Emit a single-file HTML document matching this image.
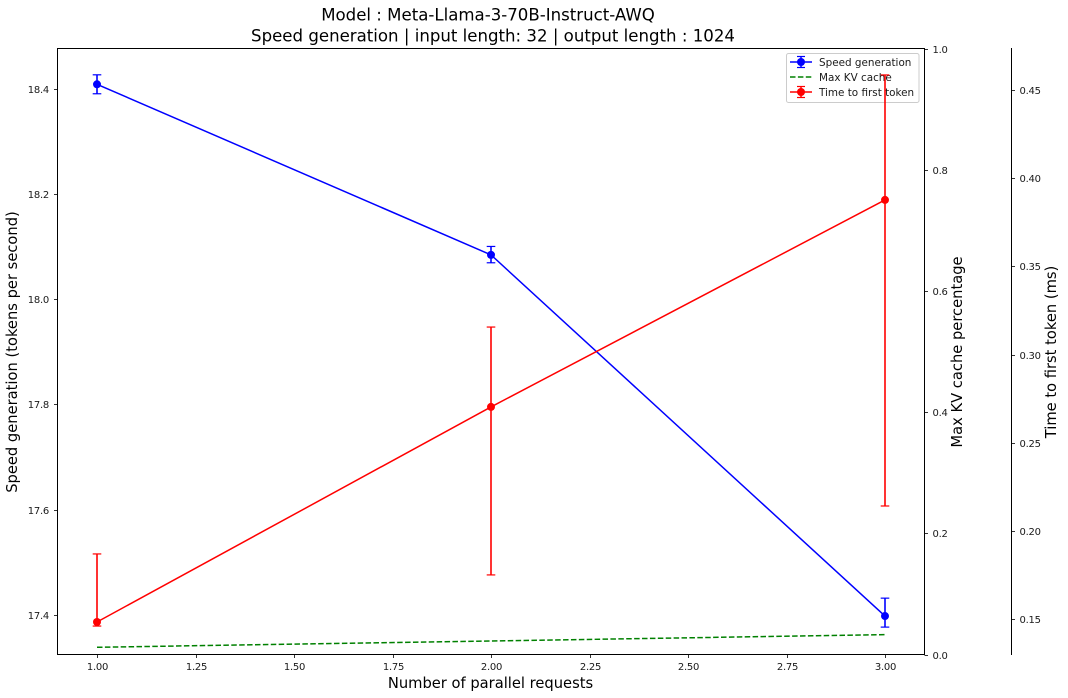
<!DOCTYPE html>
<html>
<head>
<meta charset="utf-8">
<title>Model : Meta-Llama-3-70B-Instruct-AWQ</title>
<style>
html,body{margin:0;padding:0;background:#fff;}
svg{display:block;}
text{font-family:"DejaVu Sans","Liberation Sans",sans-serif;fill:#000;}
.tick{font-size:10px;fill:#1a1a1a;letter-spacing:-0.25px;}
</style>
</head>
<body>
<svg id="chart" width="1068" height="698" viewBox="0 0 1068 698" xmlns="http://www.w3.org/2000/svg">
<rect x="0" y="0" width="1068" height="698" fill="#ffffff"/>
<text x="488" y="20.5" font-size="16.6" text-anchor="middle">Model : Meta-Llama-3-70B-Instruct-AWQ</text>
<text x="493" y="41.5" font-size="16.6" text-anchor="middle">Speed generation | input length: 32 | output length : 1024</text>
<text x="490.5" y="688" font-size="14.7" text-anchor="middle">Number of parallel requests</text>
<text transform="translate(17,352) rotate(-90)" font-size="14.7" text-anchor="middle">Speed generation (tokens per second)</text>
<text transform="translate(962,352) rotate(-90)" font-size="14.7" text-anchor="middle">Max KV cache percentage</text>
<text transform="translate(1056,352) rotate(-90)" font-size="14.7" text-anchor="middle">Time to first token (ms)</text>
<g id="kv-layer"></g>
<g id="speed-layer"></g>
<g id="axes-layer"></g>
<g id="legend">
  <rect x="786.5" y="53.5" width="132.5" height="49" rx="2" fill="#ffffff" fill-opacity="0.8" stroke="#cccccc" stroke-width="1"/>
  <g>
    <line x1="790" x2="812" y1="62" y2="62" stroke="#0000ff" stroke-width="1.5"/>
    <line x1="801" x2="801" y1="56.5" y2="67.5" stroke="#0000ff" stroke-width="1.5"/>
    <line x1="797" x2="805" y1="56.5" y2="56.5" stroke="#0000ff" stroke-width="1.2"/>
    <line x1="797" x2="805" y1="67.5" y2="67.5" stroke="#0000ff" stroke-width="1.2"/>
    <circle cx="801" cy="62" r="4" fill="#0000ff"/>
    <text x="819" y="66" font-size="10.4" style="fill:#1a1a1a">Speed generation</text>
  </g>
  <g>
    <line x1="790" x2="812" y1="77" y2="77" stroke="#008000" stroke-width="1.5" stroke-dasharray="5.5 2.4"/>
    <text x="819" y="81" font-size="10.4" style="fill:#1a1a1a">Max KV cache</text>
  </g>
  <g>
    <line x1="790" x2="812" y1="92" y2="92" stroke="#ff0000" stroke-width="1.5"/>
    <line x1="801" x2="801" y1="86.5" y2="97.5" stroke="#ff0000" stroke-width="1.5"/>
    <line x1="797" x2="805" y1="86.5" y2="86.5" stroke="#ff0000" stroke-width="1.2"/>
    <line x1="797" x2="805" y1="97.5" y2="97.5" stroke="#ff0000" stroke-width="1.2"/>
    <circle cx="801" cy="92" r="4" fill="#ff0000"/>
    <text x="819" y="96" font-size="10.4" style="fill:#1a1a1a">Time to first token</text>
  </g>
</g>
<g id="ttft-layer"></g>
</svg>
<script>
const parallelRequests = [1, 2, 3];
const speedValues = [18.408, 18.084, 17.398];
const speedLower = [18.39, 18.069, 17.377];
const speedUpper = [18.426, 18.1, 17.432];
const kvCacheValues = [0.0119, 0.0223, 0.0328];
const ttftValues = [0.1483, 0.2703, 0.3877];
const ttftLower = [0.146, 0.175, 0.2141];
const ttftUpper = [0.1869, 0.3156, 0.4586];
const xTickValues = [1, 1.25, 1.5, 1.75, 2, 2.25, 2.5, 2.75, 3];
const speedTickValues = [17.4, 17.6, 17.8, 18.0, 18.2, 18.4];
const kvTickValues = [0, 0.2, 0.4, 0.6, 0.8, 1.0];
const ttftTickValues = [0.15, 0.2, 0.25, 0.3, 0.35, 0.4, 0.45];

const NS = 'http://www.w3.org/2000/svg';
const plotLeft = 57.5, plotRight = 924.5, plotTop = 48.5, plotBottom = 654.5, ttftSpineX = 1011.5;
const xScale = v => 97 + (v - 1) * 394;
const speedScale = v => 615 - (v - 17.4) * 526.5;
const kvScale = v => plotBottom - v * 606;
const ttftScale = v => 619 - (v - 0.15) * 1763;

function make(tag, attrs, parent) {
  const el = document.createElementNS(NS, tag);
  for (const key in attrs) el.setAttribute(key, attrs[key]);
  parent.appendChild(el);
  return el;
}
function drawLine(parent, x1, y1, x2, y2, color, width) {
  return make('line', {x1: x1, y1: y1, x2: x2, y2: y2, stroke: color, 'stroke-width': width}, parent);
}
function pointsFor(values, yScale) {
  return values.map((v, i) => xScale(parallelRequests[i]) + ',' + yScale(v)).join(' ');
}
function drawSeries(layer, values, lower, upper, yScale, color, prefix) {
  parallelRequests.forEach((p, i) => {
    const cx = xScale(p);
    const bar = make('g', {}, layer);
    
    
    drawLine(bar, cx, yScale(lower[i]), cx, yScale(upper[i]), color, 1.6);
    drawLine(bar, cx - 4.3, yScale(lower[i]), cx + 4.3, yScale(lower[i]), color, 1.2);
    drawLine(bar, cx - 4.3, yScale(upper[i]), cx + 4.3, yScale(upper[i]), color, 1.2);
  });
  const line = make('polyline', {points: pointsFor(values, yScale), fill: 'none', stroke: color, 'stroke-width': 1.5}, layer);
  
  
  values.forEach((v, i) => {
    const dot = make('circle', {cx: xScale(parallelRequests[i]), cy: yScale(v), r: 4, fill: color}, layer);
    
    
  });
}

const kvLayer = document.getElementById('kv-layer');
const kvLine = make('polyline', {points: pointsFor(kvCacheValues, kvScale), fill: 'none', stroke: '#008000', 'stroke-width': 1.5, 'stroke-dasharray': '5.5 2.4'}, kvLayer);



drawSeries(document.getElementById('speed-layer'), speedValues, speedLower, speedUpper, speedScale, '#0000ff', 'speed');
drawSeries(document.getElementById('ttft-layer'), ttftValues, ttftLower, ttftUpper, ttftScale, '#ff0000', 'ttft');

const axes = document.getElementById('axes-layer');
const spineLeft = drawLine(axes, plotLeft, plotTop - 0.5, plotLeft, plotBottom + 0.5, '#000', 1);


const spineRight = drawLine(axes, plotRight, plotTop - 0.5, plotRight, plotBottom + 0.5, '#000', 1);


const spineTop = drawLine(axes, plotLeft, plotTop, plotRight, plotTop, '#000', 1);


const spineBottom = drawLine(axes, plotLeft, plotBottom, plotRight, plotBottom, '#000', 1);


const spineTtft = drawLine(axes, ttftSpineX, plotTop - 0.5, ttftSpineX, plotBottom + 0.5, '#000', 1);



xTickValues.forEach(v => {
  const x = Math.round(xScale(v)) + 0.5;
  drawLine(axes, x, plotBottom, x, plotBottom + 3.5, '#000', 0.8);
  const label = make('text', {x: x, y: plotBottom + 15.5, 'text-anchor': 'middle', class: 'tick'}, axes);
  
  
  label.textContent = v.toFixed(2);
});
speedTickValues.forEach(v => {
  const y = Math.round(speedScale(v)) + 0.5;
  drawLine(axes, plotLeft - 3.5, y, plotLeft, y, '#000', 0.8);
  const label = make('text', {x: plotLeft - 8.5, y: y + 3.5, 'text-anchor': 'end', class: 'tick'}, axes);
  
  
  label.textContent = v.toFixed(1);
});
kvTickValues.forEach(v => {
  const y = Math.round(kvScale(v)) + 0.5;
  drawLine(axes, plotRight, y, plotRight + 3.5, y, '#000', 0.8);
  const label = make('text', {x: plotRight + 8, y: y + 3.5, 'text-anchor': 'start', class: 'tick'}, axes);
  
  
  label.textContent = v.toFixed(1);
});
ttftTickValues.forEach(v => {
  const y = Math.round(ttftScale(v)) + 0.5;
  drawLine(axes, ttftSpineX, y, ttftSpineX + 3.5, y, '#000', 0.8);
  const label = make('text', {x: ttftSpineX + 8, y: y + 3.5, 'text-anchor': 'start', class: 'tick'}, axes);
  
  
  label.textContent = v.toFixed(2);
});
</script>
</body>
</html>
